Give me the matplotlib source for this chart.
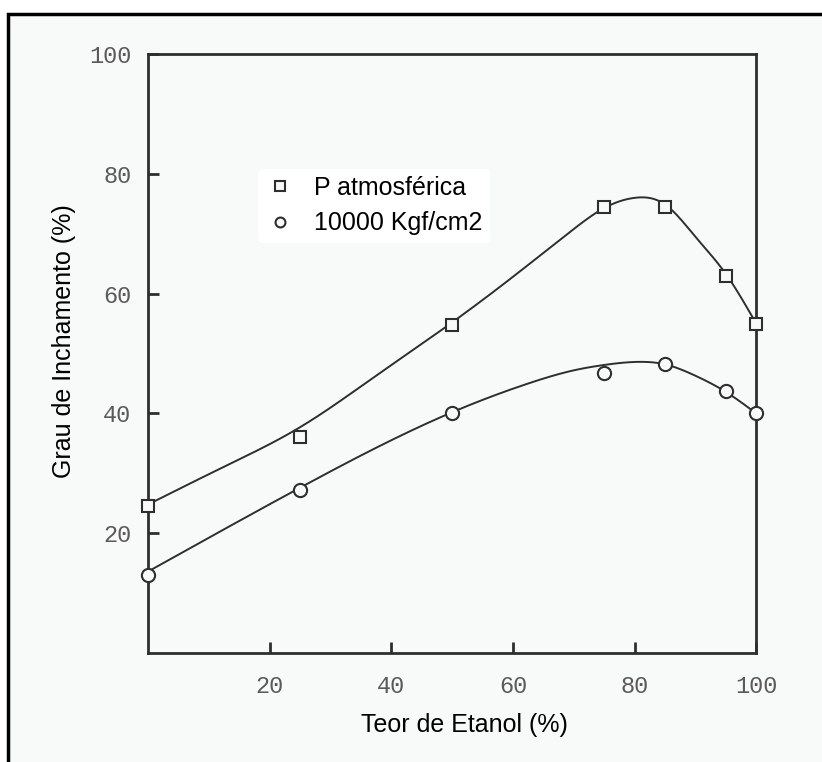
import numpy as np
import matplotlib
matplotlib.use("Agg")
import matplotlib.pyplot as plt
from matplotlib.patches import Rectangle

# measured points
teor = [0, 25, 50, 75, 85, 95, 100]
p_atm = [24.5, 36, 54.7, 74.5, 74.5, 63, 55]
p_10000 = [13, 27.3, 40, 46.7, 48.3, 43.7, 40]

# hand-drawn fitted curves (knots)
fit_x_atm = [0, 12.5, 25, 37.5, 50, 62.5, 70, 75, 80, 85, 90, 95, 100]
fit_y_atm = [24.8, 31.1, 37.7, 46.3, 55.2, 64.8, 70.8, 74.3, 76.0, 74.9, 69.5, 63.3, 55]
fit_x_10000 = [0, 25, 50, 62.5, 70, 75, 80, 85, 90, 95, 100]
fit_y_10000 = [13.6, 27.6, 40.2, 45.0, 47.2, 48.1, 48.6, 48.2, 46.3, 43.6, 40]

ticks = [20, 40, 60, 80, 100]


def spline(x, y, xs):
    # natural cubic spline
    x = np.asarray(x, float)
    y = np.asarray(y, float)
    n = len(x)
    h = np.diff(x)
    A = np.zeros((n, n))
    b = np.zeros(n)
    A[0, 0] = A[-1, -1] = 1
    for i in range(1, n - 1):
        A[i, i - 1] = h[i - 1]
        A[i, i] = 2 * (h[i - 1] + h[i])
        A[i, i + 1] = h[i]
        b[i] = 6 * ((y[i + 1] - y[i]) / h[i] - (y[i] - y[i - 1]) / h[i - 1])
    M = np.linalg.solve(A, b)
    idx = np.clip(np.searchsorted(x, xs) - 1, 0, n - 2)
    x0, x1 = x[idx], x[idx + 1]
    hh = h[idx]
    return (M[idx] * (x1 - xs) ** 3 / (6 * hh) + M[idx + 1] * (xs - x0) ** 3 / (6 * hh)
            + (y[idx] / hh - M[idx] * hh / 6) * (x1 - xs)
            + (y[idx + 1] / hh - M[idx + 1] * hh / 6) * (xs - x0))


bg = "#f8f9f9"
ink = "#2e2e2e"

fig = plt.figure(figsize=(8.22, 7.62), dpi=100)
fig.patch.set_facecolor("white")

# scanned page frame
back = fig.add_axes([0, 0, 1, 1], zorder=-5)
back.axis("off")
back.set_xlim(0, 1)
back.set_ylim(0, 1)
back.add_patch(Rectangle((8 / 822, -0.05), 1.0, 1 - 14 / 762 + 0.05,
                         facecolor=bg, edgecolor="black", linewidth=2.5))

ax = fig.add_axes([0.180, 0.143, 0.740, 0.786])
ax.set_facecolor(bg)

xs = np.linspace(0, 100, 400)
ax.plot(xs, spline(fit_x_atm, fit_y_atm, xs), color=ink, lw=1.4, zorder=2)
ax.plot(xs, spline(fit_x_10000, fit_y_10000, xs), color=ink, lw=1.4, zorder=2)

ax.plot(teor, p_atm, ls="none", marker="s", ms=9, mfc=bg, mec=ink, mew=1.5,
        zorder=3, clip_on=False, label="P atmosférica")
ax.plot(teor, p_10000, ls="none", marker="o", ms=9.5, mfc=bg, mec=ink, mew=1.5,
        zorder=3, clip_on=False, label="10000 Kgf/cm2")

ax.set_xlim(0, 100)
ax.set_ylim(0, 100)
ax.set_xticks(ticks)
ax.set_yticks(ticks)
ax.tick_params(direction="in", length=8, width=2, color=ink,
               labelsize=17, labelcolor="#5a5a5a")
ax.tick_params(axis="x", pad=16)
ax.tick_params(axis="y", pad=12)
for lab in ax.get_xticklabels() + ax.get_yticklabels():
    lab.set_fontfamily("Liberation Mono")
for s in ax.spines.values():
    s.set_linewidth(2)
    s.set_color(ink)

ax.set_xlabel("Teor de Etanol (%)", fontsize=18, family="Liberation Sans")
ax.set_ylabel("Grau de Inchamento (%)", fontsize=18, family="Liberation Sans")
ax.xaxis.set_label_coords(0.52, -0.1)
ax.yaxis.set_label_coords(-0.118, 0.52)

leg = ax.legend(loc="center left", bbox_to_anchor=(0.16, 0.747), frameon=True,
                facecolor="white", edgecolor="none", framealpha=1,
                prop={"family": "Liberation Sans", "size": 18},
                handletextpad=0.75, handlelength=1.2, labelspacing=0.45,
                markerscale=0.75, borderpad=0.3)

fig.savefig("out.png", dpi=100)
